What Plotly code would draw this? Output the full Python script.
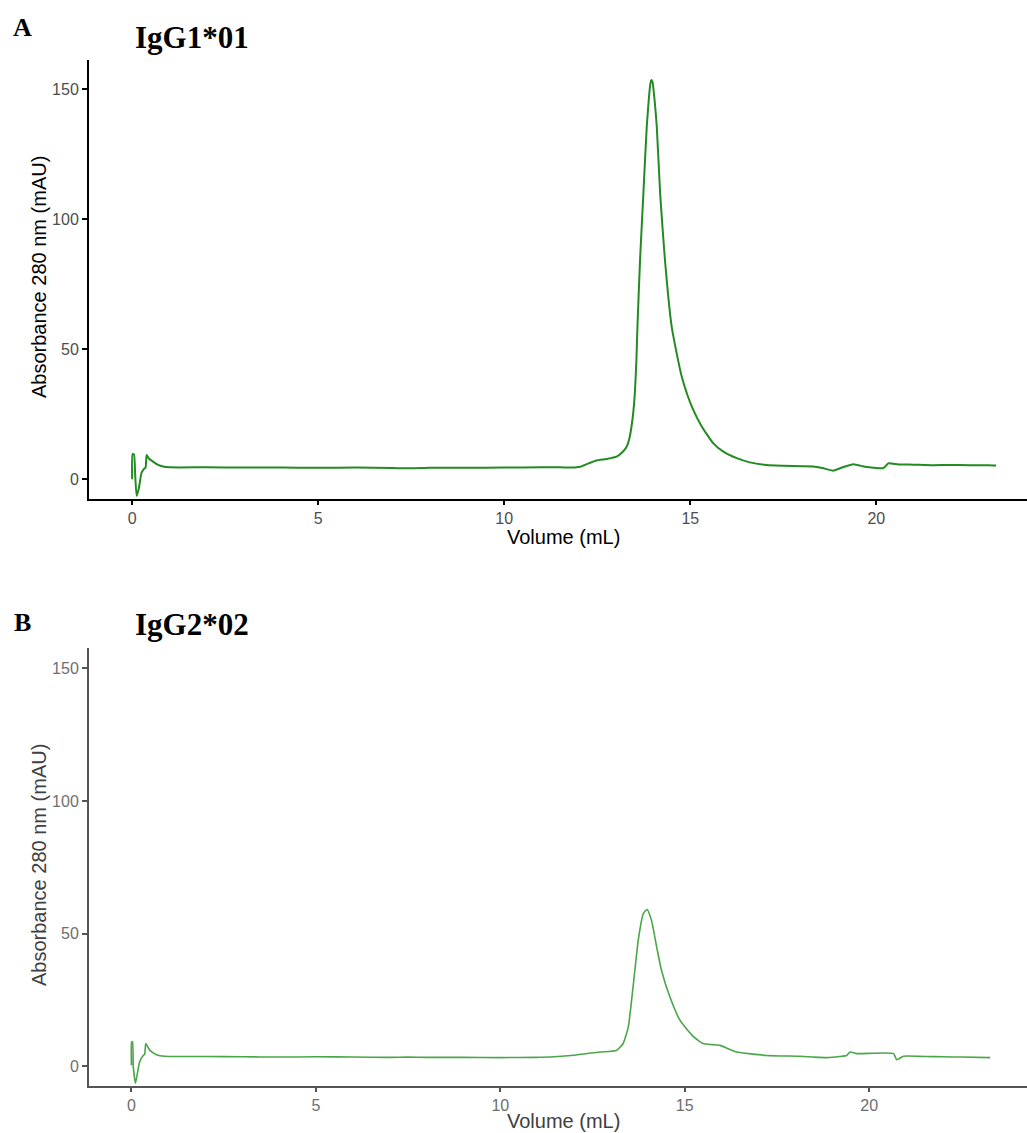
import plotly.graph_objects as go

# ---- data ----
vol_a = [0.00, 0.01, 0.05, 0.08, 0.12, 0.18, 0.25, 0.32, 0.36, 0.39, 0.45, 0.56, 0.70, 0.83,
         1.0, 2.0, 3.0, 4.0, 5.0, 6.0, 7.0, 7.5, 8.0, 9.0, 10.0, 11.0, 11.5, 11.8,
         12.04, 12.25, 12.48, 12.75, 13.02, 13.18, 13.29, 13.36, 13.42, 13.47, 13.51, 13.55,
         13.58, 13.65, 13.74, 13.83, 13.89, 13.93, 13.96, 13.99, 14.04, 14.10, 14.19, 14.32,
         14.50, 14.62, 14.77, 14.92, 15.08, 15.30, 15.62, 15.90, 16.25, 16.60, 17.05, 17.50,
         18.0, 18.3, 18.55, 18.84, 19.1, 19.38, 19.7, 20.0, 20.19, 20.25, 20.32, 20.6,
         21.0, 21.5, 22.0, 22.5, 23.0, 23.22]
abs_a = [0.0, 9.7, 9.5, 2.0, -6.4, -3.5, 2.4, 4.0, 4.5, 9.3, 8.0, 6.8, 5.5, 4.9,
         4.6, 4.6, 4.5, 4.5, 4.4, 4.5, 4.3, 4.2, 4.4, 4.4, 4.5, 4.6, 4.6, 4.5,
         4.8, 6.0, 7.2, 7.8, 8.7, 10.5, 12.5, 15.5, 20.2, 26.0, 33.0, 45.0,
         58.7, 84.3, 110.0, 135.6, 147.0, 152.5, 153.6, 152.5, 146.0, 135.6, 110.0, 84.3,
         58.7, 49.5, 39.5, 32.5, 26.7, 20.5, 13.8, 10.5, 8.1, 6.5, 5.5, 5.2,
         5.0, 4.9, 4.3, 3.3, 4.6, 5.8, 4.8, 4.3, 4.3, 5.0, 6.1, 5.7,
         5.6, 5.4, 5.5, 5.4, 5.4, 5.3]

vol_b = [0.00, 0.005, 0.03, 0.05, 0.11, 0.22, 0.32, 0.36, 0.39, 0.50, 0.68, 0.90,
         2.0, 3.0, 4.0, 5.0, 6.0, 7.0, 7.5, 8.0, 9.0, 10.0, 11.0, 11.35, 12.0, 12.7,
         13.15, 13.33, 13.47, 13.60, 13.74, 13.88, 13.98, 14.10, 14.24, 14.37, 14.60, 14.87,
         15.23, 15.50, 15.75, 15.96, 16.20, 16.41, 17.22, 18.13, 18.49, 18.85, 19.2, 19.39,
         19.45, 19.50, 19.66, 20.66, 20.75, 20.93, 21.5, 22.0, 22.5, 23.28]
abs_b = [0.4, 9.2, 9.2, 0.0, -6.3, 1.6, 4.1, 4.6, 8.6, 6.0, 4.4, 3.8,
         3.7, 3.6, 3.5, 3.6, 3.5, 3.4, 3.5, 3.4, 3.4, 3.3, 3.4, 3.5, 4.2, 5.4,
         6.0, 8.6, 14.8, 29.9, 47.5, 57.6, 59.1, 55.0, 45.0, 36.2, 26.1, 17.4,
         11.3, 8.6, 8.2, 7.9, 6.5, 5.4, 4.1, 3.8, 3.5, 3.3, 3.7, 4.1,
         5.0, 5.4, 4.8, 4.8, 2.5, 3.8, 3.7, 3.6, 3.5, 3.3]

x_ticks = [0, 5, 10, 15, 20]
y_ticks = [0, 50, 100, 150]
panel_labels = ["A", "B"]
panel_titles = ["IgG1*01", "IgG2*02"]
x_title = "Volume (mL)"
y_title = "Absorbance 280 nm (mAU)"

W, H = 1027, 1133
def py(p):  # pixel y (from top) -> paper y
    return 1 - p / H
def px(p):
    return p / W

fig = go.Figure()
fig.add_trace(go.Scatter(x=vol_a, y=abs_a, mode="lines", xaxis="x", yaxis="y",
                         line=dict(color="#228B22", width=2, shape="spline", smoothing=0.5),
                         showlegend=False))
fig.add_trace(go.Scatter(x=vol_b, y=abs_b, mode="lines", xaxis="x2", yaxis="y2",
                         line=dict(color="#49a649", width=1.6, shape="spline", smoothing=0.5),
                         showlegend=False))

sans = "Liberation Sans, Arial, sans-serif"
serif = "Liberation Serif, Times New Roman, serif"

def xax(domain_anchor, rng, lc, tc):
    return dict(domain=[px(89), 1], anchor=domain_anchor, range=rng, tickvals=x_ticks,
                showline=True, linecolor=lc, linewidth=2, ticks="outside", ticklen=4,
                tickwidth=1.5, tickcolor=lc, showgrid=False, zeroline=False,
                tickfont=dict(family=sans, size=16, color=tc))

def yax(domain, anchor, rng, lc, tc):
    return dict(domain=domain, anchor=anchor, range=rng, tickvals=y_ticks,
                showline=True, linecolor=lc, linewidth=2, ticks="outside", ticklen=5,
                tickwidth=1.5, tickcolor=lc, showgrid=False, zeroline=False,
                tickfont=dict(family=sans, size=16, color=tc))

fig.update_layout(
    width=W, height=H, margin=dict(l=0, r=0, t=0, b=0),
    plot_bgcolor="white", paper_bgcolor="white",
    xaxis=xax("y", [-1.16, 24.05], "#000000", "#4d4d4d"),
    yaxis=yax([py(499), py(60)], "x", [-7.6, 161.3], "#000000", "#4d4d4d"),
    xaxis2=xax("y2", [-1.15, 24.28], "#555555", "#6e6e6e"),
    yaxis2=yax([py(1086), py(648)], "x2", [-7.4, 157.6], "#555555", "#6e6e6e"),
)

ann = []
# panel letters and titles
ann.append(dict(text="<b>%s</b>" % panel_labels[0], x=px(11), y=py(44), xanchor="left", yanchor="bottom",
                font=dict(family=serif, size=26, color="black")))
ann.append(dict(text="<b>%s</b>" % panel_titles[0], x=px(133), y=py(57), xanchor="left", yanchor="bottom",
                font=dict(family=serif, size=31, color="black")))
ann.append(dict(text="<b>%s</b>" % panel_labels[1], x=px(12), y=py(639), xanchor="left", yanchor="bottom",
                font=dict(family=serif, size=26, color="black")))
ann.append(dict(text="<b>%s</b>" % panel_titles[1], x=px(133), y=py(644), xanchor="left", yanchor="bottom",
                font=dict(family=serif, size=31, color="black")))
# axis titles
ann.append(dict(text=x_title, x=px(563), y=py(537), xanchor="center", yanchor="middle",
                font=dict(family=sans, size=20, color="black")))
ann.append(dict(text=y_title, x=px(39), y=py(277), xanchor="center", yanchor="middle", textangle=-90,
                font=dict(family=sans, size=20, color="black")))
ann.append(dict(text=x_title, x=px(563), y=py(1121), xanchor="center", yanchor="middle",
                font=dict(family=sans, size=20, color="#404040")))
ann.append(dict(text=y_title, x=px(39), y=py(865), xanchor="center", yanchor="middle", textangle=-90,
                font=dict(family=sans, size=20, color="#404040")))
for a in ann:
    a.update(xref="paper", yref="paper", showarrow=False)
fig.update_layout(annotations=ann)

fig.write_html("out.html", config={"displayModeBar": False},
               post_script="document.body.style.margin='0';document.body.style.overflow='hidden';")
